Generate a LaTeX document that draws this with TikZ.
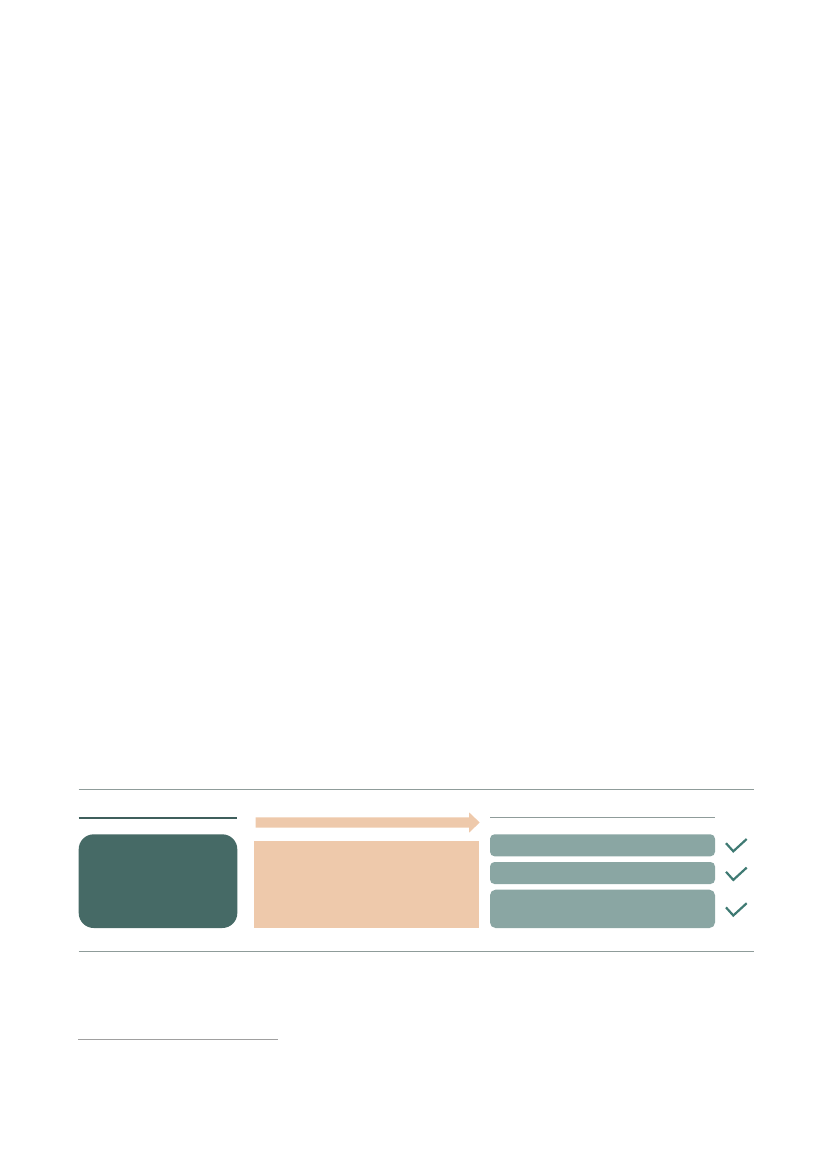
\documentclass[tikz,border=0pt]{standalone}
\definecolor{darkteal}{HTML}{466A66}
\definecolor{peach}{HTML}{EEC9AB}
\definecolor{greyteal}{HTML}{8AA6A3}
\definecolor{checkcol}{HTML}{3F7A73}
\definecolor{rulecol}{HTML}{8F9C9A}
\definecolor{darkline}{HTML}{3F5F5C}
\definecolor{footcol}{HTML}{A0A0A0}
\begin{document}
\begin{tikzpicture}[x=1pt,y=-1pt,
  blk/.style={inner sep=0pt, outer sep=0pt, anchor=north west},
  darkbox/.style={blk, fill=darkteal, rounded corners=15pt},
  peachbox/.style={blk, fill=peach},
  greybox/.style={blk, fill=greyteal, rounded corners=4.5pt, minimum width=225pt},
  rule/.style={draw=rulecol, line width=1pt},
  checkmark/.style={draw=checkcol, line width=2.2pt, line join=miter},
]
\useasboundingbox (0,0) rectangle (827,1169);
% horizontal rules
\coordinate (rt1) at (78.7,789.3);
\coordinate (rt2) at (753.7,789.3);
\coordinate (rb1) at (78.7,951.3);
\coordinate (rb2) at (753.7,951.3);
\draw[rule] (rt1) -- (rt2);
\draw[rule] (rb1) -- (rb2);
% left column
\coordinate (dl1) at (78.7,817.7);
\coordinate (dl2) at (237.3,817.7);
\draw[draw=darkline, line width=1.6pt] (dl1) -- (dl2);
\node[darkbox, minimum width=158.6pt, minimum height=93.7pt] (dark) at (78.7,834.3) {};
% middle column
\fill[peach] (255.7,817.3) -- (469,817.3) -- (469,812.3) -- (479.7,822.5)
  -- (469,832.7) -- (469,827.7) -- (255.7,827.7) -- cycle;
\node[peachbox, minimum width=225pt, minimum height=86.7pt] (mid) at (254,841.3) {};
% right column
\coordinate (gl1) at (490,817.7);
\coordinate (gl2) at (715,817.7);
\draw[draw=rulecol, line width=1.3pt] (gl1) -- (gl2);
\node[greybox, minimum height=22pt] (g1) at (490,834.3) {};
\node[greybox, minimum height=22pt] (g2) at (490,862) {};
\node[greybox, minimum height=38.3pt, rounded corners=5.5pt] (g3) at (490,889.7) {};
% checks
\draw[checkmark] (726,843.2) -- (733.3,851.3) -- (746.7,839);
\draw[checkmark] (726,871.8) -- (733.3,879.9) -- (746.7,867.6);
\draw[checkmark] (726,907.4) -- (733.3,915.5) -- (746.7,903.2);
% footnote rule
\coordinate (f1) at (78.3,1039);
\coordinate (f2) at (278.3,1039);
\draw[draw=footcol, line width=1pt] (f1) -- (f2);
\end{tikzpicture}
\end{document}
